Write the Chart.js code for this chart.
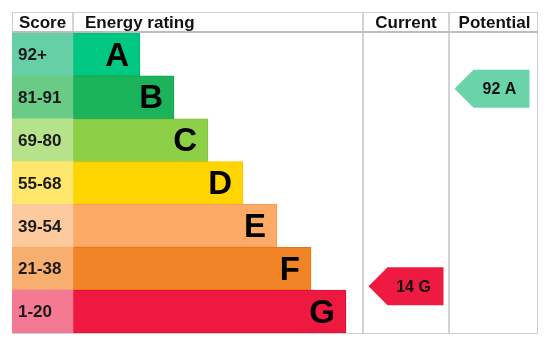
<!DOCTYPE html>
<html>
<head>
<meta charset="utf-8">
<script src="https://cdn.jsdelivr.net/npm/chart.js@4.4.0/dist/chart.umd.min.js"></script>
<style>
  html, body { margin: 0; padding: 0; background: #fff; }
  canvas { display: block; }
</style>
</head>
<body>
<canvas id="epcChart" width="551" height="346"></canvas>
<script>
// ========== EPC DATA ==========
const bands = ['A', 'B', 'C', 'D', 'E', 'F', 'G'];
const scoreRanges = ['92+', '81-91', '69-80', '55-68', '39-54', '21-38', '1-20'];
const barLengths = [67, 101, 135, 170, 204, 238, 273];
const headers = ['Score', 'Energy rating', 'Current', 'Potential'];

const currentScore = 14;
const currentBand = 'G';
const potentialScore = 92;
const potentialBand = 'A';

// ========== COLOURS ==========
const bandColors = ['#00c882', '#1bb45b', '#8dd048', '#ffd500', '#fcaa65', '#f08427', '#ee1840'];
const bandBorders = ['#00b877', '#12a34f', '#7fc03c', '#f5c800', '#f59c55', '#e5761b', '#e00f35'];
const scoreColors = ['#66cfa5', '#6acb87', '#b5e28b', '#ffe66c', '#fdca9d', '#f8ae6f', '#f37a92'];
const arrowColors = { A: '#6bd3a9', G: '#ef1a42' };

// column limits on the x scale (score | rating | current | potential)
const columns = [[0, 61], [61, 351], [351, 437], [437, 526]];

// ========== TABLE PLUGIN ==========
const epcTable = {
  id: 'epcTable',
  beforeDatasetsDraw(chart) {
    const { ctx, chartArea, scales: { x } } = chart;
    const top = chartArea.top - 21;
    ctx.save();
    ctx.strokeStyle = '#cfcfcf';
    ctx.lineWidth = 1;
    ctx.strokeRect(x.getPixelForValue(0) + 0.5, top + 0.5, x.getPixelForValue(526) - x.getPixelForValue(0) - 1, chartArea.bottom - top);
    // column dividers
    ctx.strokeStyle = '#c4c4c4';
    ctx.lineWidth = 1.5;
    [351, 437].forEach(v => {
      const px = x.getPixelForValue(v);
      ctx.beginPath();
      ctx.moveTo(px, top);
      ctx.lineTo(px, chartArea.bottom);
      ctx.stroke();
    });
    // header divider between score and rating
    const p61 = x.getPixelForValue(61);
    ctx.beginPath();
    ctx.moveTo(p61, top);
    ctx.lineTo(p61, chartArea.top);
    ctx.stroke();
    // header bottom line
    ctx.strokeStyle = '#bdbdbd';
    ctx.lineWidth = 2;
    ctx.beginPath();
    ctx.moveTo(x.getPixelForValue(0), chartArea.top - 1);
    ctx.lineTo(x.getPixelForValue(526), chartArea.top - 1);
    ctx.stroke();
    ctx.restore();
  },
  afterDatasetsDraw(chart) {
    const { ctx, chartArea, scales: { x, yScore } } = chart;
    ctx.save();

    // header texts
    ctx.fillStyle = '#111';
    ctx.font = 'bold 17px "Liberation Sans", Arial, sans-serif';
    ctx.textBaseline = 'middle';
    const hy = chartArea.top - 10;
    headers.forEach((h, i) => {
      const [a, b] = columns[i];
      if (i === 1) {
        ctx.textAlign = 'left';
        ctx.fillText(h, x.getPixelForValue(a) + 12, hy);
      } else {
        ctx.textAlign = 'center';
        ctx.fillText(h, (x.getPixelForValue(a) + x.getPixelForValue(b)) / 2 + (i === 3 ? 1 : 0), hy);
      }
    });

    // score labels
    const scoreMeta = chart.getDatasetMeta(0);
    ctx.textAlign = 'left';
    ctx.fillStyle = '#1a1a1a';
    ctx.font = 'bold 17px "Liberation Sans", Arial, sans-serif';
    scoreMeta.data.forEach((bar, i) => {
      ctx.fillText(scoreRanges[i], bar.base + 6, bar.y + 1);
    });

    // band letters
    const barMeta = chart.getDatasetMeta(1);
    ctx.textAlign = 'right';
    ctx.fillStyle = '#000';
    ctx.font = 'bold 33px "Liberation Sans", Arial, sans-serif';
    barMeta.data.forEach((bar, i) => {
      ctx.fillText(bands[i], bar.x - 11, bar.y + 2);
    });

    // rating arrows
    const drawArrow = (col, score, band) => {
      const left = x.getPixelForValue(columns[col][0]) + 5.5;
      const right = left + 75;
      const tip = 19;
      const cy = yScore.getPixelForValue(score);
      const h = 38;
      ctx.fillStyle = arrowColors[band];
      ctx.beginPath();
      ctx.moveTo(left, cy);
      ctx.lineTo(left + tip, cy - h / 2);
      ctx.lineTo(right, cy - h / 2);
      ctx.lineTo(right, cy + h / 2);
      ctx.lineTo(left + tip, cy + h / 2);
      ctx.closePath();
      ctx.fill();
      ctx.fillStyle = '#111';
      ctx.textAlign = 'center';
      ctx.font = 'bold 16px "Liberation Sans", Arial, sans-serif';
      ctx.fillText(score + ' ' + band, (left + tip + right) / 2 - 2, cy + 1);
    };
    drawArrow(2, currentScore, currentBand);
    drawArrow(3, potentialScore, potentialBand);

    ctx.restore();
  }
};

// ========== CHART ==========
const epcChart = new Chart(document.getElementById('epcChart'), {
  type: 'bar',
  data: {
    labels: bands,
    datasets: [
      {
        label: 'Score',
        data: bands.map(() => columns[0]),
        backgroundColor: scoreColors,
        borderWidth: 0,
        grouped: false,
        barPercentage: 1,
        categoryPercentage: 1
      },
      {
        label: 'Energy rating',
        data: barLengths.map(l => [61, 61 + l]),
        backgroundColor: bandColors,
        borderColor: bandBorders,
        borderWidth: 1,
        borderSkipped: false,
        grouped: false,
        barPercentage: 1,
        categoryPercentage: 1
      }
    ]
  },
  options: {
    indexAxis: 'y',
    responsive: false,
    animation: false,
    devicePixelRatio: 1,
    layout: { padding: { left: 12, right: 13, top: 33, bottom: 13 } },
    plugins: {
      legend: { display: false },
      tooltip: { enabled: false }
    },
    scales: {
      x: { type: 'linear', min: 0, max: 526, display: false },
      y: { type: 'category', display: false },
      yScore: { type: 'linear', axis: 'y', position: 'right', min: 4, max: 105.5, display: false }
    }
  },
  plugins: [epcTable]
});
</script>
</body>
</html>
